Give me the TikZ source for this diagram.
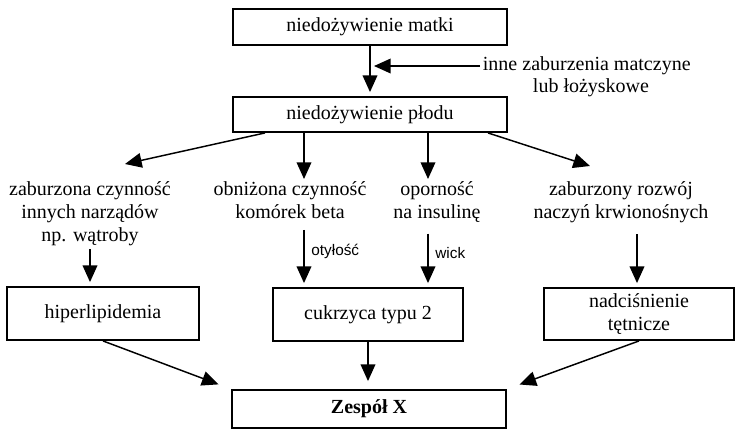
\documentclass[tikz,border=0pt]{standalone}
\usepackage{fontspec}
\setmainfont{Liberation Serif}
\newfontfamily\labelfont{Liberation Sans}
\usetikzlibrary{arrows.meta}

\begin{document}
\begin{tikzpicture}[x=0.75pt,y=-0.75pt,
  every node/.style={font=\fontsize{15}{17.25}\selectfont, inner sep=2pt},
  box/.style={draw, line width=1.4pt, align=center},
  txt/.style={align=center, anchor=north},
  arr/.style={line width=1.1pt, -{Triangle[length=12.5pt,width=11pt]}},
  lbl/.style={font=\labelfont\fontsize{11.5}{13}\selectfont, right=3pt}
]
\useasboundingbox (0,0) rectangle (735,430);

% top
\node[box, minimum width=205.5pt, minimum height=27pt] (matka) at (370,27) {niedożywienie matki};
\node[box, minimum width=205.5pt, minimum height=26.25pt] (plod) at (370,114.5) {niedożywienie płodu};
\node[anchor=west] (inne) at (480,66) {inne zaburzenia matczyne};
\node (lozysko) at (591,88) {lub łożyskowe};
\coordinate (wlot) at (matka.south |- inne.west);

% middle row
\node[txt] (watroba) at (90,179) {zaburzona czynność\\innych narządów\\np. wątroby};
\node[txt] (beta) at (290,179) {obniżona czynność\\komórek beta};
\node[txt] (insulina) at (437,179) {oporność\\na insulinę};
\node[txt] (naczynia) at (621,179) {zaburzony rozwój\\naczyń krwionośnych};

% bottom
\node[box, minimum width=144pt, minimum height=39.75pt] (hiper) at (103,313.5) {hiperlipidemia};
\node[box, minimum width=142.5pt, minimum height=39.75pt] (cukrzyca) at (368,314.5) {cukrzyca typu 2};
\node[box, minimum width=142.5pt, minimum height=39pt] (nadcisn) at (639,314) {nadciśnienie\\tętnicze};
\node[box, minimum width=205.5pt, minimum height=28.5pt] (zespol) at (369,409) {\bfseries Zespół X};

\coordinate (k1) at (304,0);
\coordinate (k2) at (428,0);
\coordinate (k3) at (637,0);

\draw[arr, shorten >=3pt] (matka.south) -- (plod.north);
\draw[arr, shorten >=3pt] (inne.west) -- (wlot);

\draw[arr] ([shift={(-105,0)}]plod.south) -- ([shift={(35,-15)}]watroba.north);
\draw[arr] (plod.south -| k1) -- (beta.north -| k1);
\draw[arr] (plod.south -| k2) -- (insulina.north -| k2);
\draw[arr] ([shift={(118,0)}]plod.south) -- ([shift={(-31,-13)}]naczynia.north);

\draw[arr, shorten >=3pt] (watroba.south) -- (hiper.north -| watroba.south);
\draw[arr, shorten <=6pt, shorten >=3pt] (beta.south -| k1) -- (cukrzyca.north -| k1) node[pos=0.45, lbl] {otyłość};
\draw[arr, shorten <=6pt, shorten >=3pt] (insulina.south -| k2) -- (cukrzyca.north -| k2) node[pos=0.45, lbl] {wick};
\draw[arr, shorten <=6pt, shorten >=3pt] (naczynia.south -| k3) -- (nadcisn.north -| k3);

\draw[arr, shorten >=10pt] (hiper.south) -- (zespol.north west);
\draw[arr, shorten >=6pt] (cukrzyca.south) -- (zespol.north -| cukrzyca.south);
\draw[arr, shorten >=10pt] (nadcisn.south) -- (zespol.north east);

\end{tikzpicture}
\end{document}
